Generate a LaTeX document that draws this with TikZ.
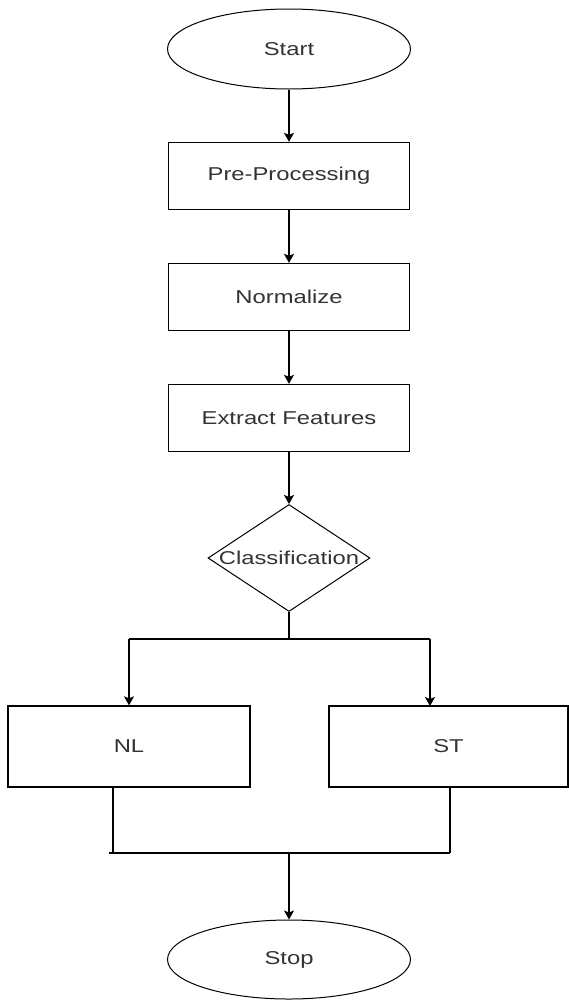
\documentclass[tikz,border=0pt]{standalone}
\usepackage{fontspec}
\setmainfont{Liberation Sans}
\newfontfamily\chartfont[FakeStretch=1.28]{Liberation Sans}
\usetikzlibrary{shapes.geometric,arrows.meta}
\definecolor{labelgray}{HTML}{333333}
\tikzset{
  every node/.style={font=\chartfont\fontsize{18.6}{22}\selectfont, text=labelgray},
  terminal/.style={draw, ellipse, line width=1pt, minimum width=243pt, minimum height=80pt, inner sep=0pt},
  stepbox/.style={draw, rectangle, line width=1.3pt, minimum width=241pt, minimum height=67pt, inner sep=0pt},
  branchbox/.style={draw, rectangle, line width=1.3pt, minimum height=81pt, inner sep=0pt},
  decision/.style={draw, diamond, line width=1pt, minimum width=162pt, minimum height=107pt, inner sep=0pt},
  link/.style={line width=1.4pt},
  arr/.style={link, -{Stealth[width=10pt,length=9pt,inset=2pt]}}
}
\begin{document}
\begin{tikzpicture}[x=1pt,y=-1pt]
  \useasboundingbox (0,0) rectangle (568,1001);

  % main column
  \node[terminal] (start) at (289,49) {Start};
  \node[stepbox] (pre) at (289,176) {Pre-Processing};
  \node[stepbox] (norm) at (289,297) {Normalize};
  \node[stepbox] (feat) at (289,418) {Extract Features};
  \node[decision] (cls) at (289,558) {\makebox[0pt]{Classification}};

  % two outcomes
  \node[branchbox, minimum width=242pt] (nl) at (129,746.5) {NL};
  \node[branchbox, minimum width=239pt] (st) at (448.5,746.5) {ST};

  \node[terminal, minimum height=79pt] (stop) at (289,959.5) {Stop};

  % routing points
  \coordinate (split) at (289,639);
  \coordinate (lbend) at (129,639);
  \coordinate (rbend) at (430,639);
  \coordinate (rin) at (430,706);
  \coordinate (lout) at (113,787);
  \coordinate (rout) at (450,787);
  \coordinate (ljoin) at (109,853);
  \coordinate (lcorner) at (113,853);
  \coordinate (rjoin) at (450,853);
  \coordinate (merge) at (289,853);

  % connectors
  \draw[arr] (start) -- (pre);
  \draw[arr] (pre) -- (norm);
  \draw[arr] (norm) -- (feat);
  \draw[arr] (feat) -- (cls);
  \draw[link] (cls.south) -- (split);
  \draw[link] (lbend) -- (rbend);
  \draw[arr] (lbend) -- (nl.north);
  \draw[arr] (rbend) -- (rin);
  \draw[link] (lout) -- (lcorner);
  \draw[link] (rout) -- (rjoin);
  \draw[link] (ljoin) -- (rjoin);
  \draw[arr] (merge) -- (stop.north);
\end{tikzpicture}
\end{document}
